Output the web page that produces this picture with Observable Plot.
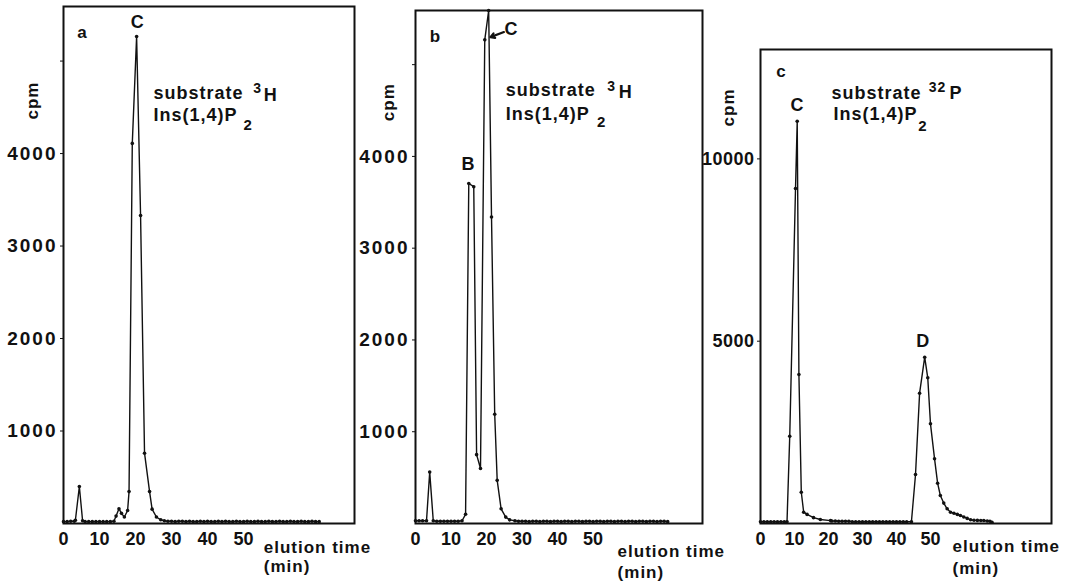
<!DOCTYPE html>
<html>
<head>
<meta charset="utf-8">
<script src="https://cdn.jsdelivr.net/npm/d3@7"></script>
<script src="https://cdn.jsdelivr.net/npm/@observablehq/plot@0.6"></script>
<style>
  body { margin: 0; background: #fff; }
  #chart { position: relative; width: 1071px; height: 582px; background: #fff; }
  #chart svg { position: absolute; left: 0; top: 0; }
</style>
</head>
<body>
<div id="chart"></div>
<script>
// ---------- data ----------
const xTicks = [0, 10, 20, 30, 40, 50];

// panel a : substrate 3H Ins(1,4)P2
const minutesA = [
  0, 1, 2, 3, 3.3, 4.4, 5.3,
  6, 7, 8, 9, 10, 11, 12, 13, 14,
  14.6, 15.4, 16.1, 16.9, 17.8, 18.2,
  19.1, 20.3, 21.4, 22.5, 23.9, 24.6, 25.8,
  27, 28, 29,
  30, 31, 32, 33, 34, 35, 36, 37, 38, 39,
  40, 41, 42, 43, 44, 45, 46, 47, 48, 49,
  50, 51, 52, 53, 54, 55, 56, 57, 58, 59,
  60, 61, 62, 63, 64, 65, 66, 67, 68, 69,
  70, 71
];
const cpmA = [
  20, 20, 25, 25, 35, 400, 30,
  20, 20, 20, 20, 20, 20, 20, 20, 25,
  80, 160, 110, 70, 140, 345,
  4110, 5265, 3330, 760, 345, 155, 70,
  40, 30, 25,
  25, 20, 25, 25, 20, 25, 20, 20, 25, 20,
  25, 20, 20, 25, 20, 25, 20, 20, 25, 20,
  20, 25, 20, 20, 25, 20, 20, 25, 20, 20,
  25, 20, 20, 25, 20, 20, 25, 20, 20, 25,
  20, 20
];

// panel b : substrate 3H Ins(1,4)P2
const minutesB = [
  0, 1, 2, 3.1, 4.0, 5.0,
  6, 7, 8, 9, 10, 11, 12,
  13.1, 14.1, 15.0, 16.4, 17.2, 18.3,
  19.5, 20.6, 21.4, 22.3, 23.0, 24.1, 25.4,
  26.5, 28, 29,
  30, 31, 32, 33, 34, 35, 36, 37, 38, 39,
  40, 41, 42, 43, 44, 45, 46, 47, 48, 49,
  50, 51, 52, 53, 54, 55, 56, 57, 58, 59,
  60, 61, 62, 63, 64, 65, 66, 67, 68, 69,
  70, 71
];
const cpmB = [
  30, 30, 30, 30, 560, 30,
  25, 25, 25, 25, 25, 25, 25,
  30, 100, 3705, 3670, 750, 600,
  5270, 5590, 3340, 1190, 470, 160, 70,
  40, 30, 25,
  25, 25, 20, 25, 25, 20, 25, 25, 20, 25,
  25, 20, 25, 25, 20, 25, 25, 20, 25, 25,
  20, 25, 25, 20, 25, 25, 20, 25, 25, 20,
  25, 25, 20, 25, 25, 20, 25, 25, 20, 25,
  25, 20
];

// panel c : substrate 32P Ins(1,4)P2
const minutesC = [
  0, 1, 2, 3, 4, 5, 6, 7, 7.8,
  8.6, 10.3, 10.8, 11.3, 12.0, 12.7, 13.7, 15.6, 17.6, 20.6,
  21, 22, 23, 24, 25, 26, 27, 28, 29, 30,
  31, 32, 33, 34, 35, 36, 37, 38, 39, 40,
  41, 42, 43, 44.4,
  45.6, 46.8, 48.3, 49.2, 50.0, 51.2, 52.1, 52.9,
  53.9, 54.9, 55.9, 56.9, 57.9, 58.8, 59.8, 60.8, 61.8,
  62.8, 63.8, 64.8, 65.7, 66.7, 67.5, 68.1
];
const cpmC = [
  50, 50, 50, 50, 50, 50, 50, 50, 50,
  2394, 9188, 11034, 4087, 858, 310, 250, 160, 110, 80,
  70, 70, 60, 60, 60, 60, 50, 50, 50, 50,
  50, 50, 50, 50, 50, 50, 50, 50, 50, 50,
  50, 50, 50, 50,
  1344, 3574, 4561, 3996, 2734, 1774, 1105, 768,
  560, 403, 310, 280, 250, 219, 180, 140, 101,
  90, 85, 82, 82, 70, 60, 36
];

const yTicksAB = [1000, 2000, 3000, 4000, 5000];
const yLabelsAB = ["1000", "2000", "3000", "4000", ""];
const yTicksC = [5000, 10000];
const yLabelsC = ["5000", "10000"];

// ---------- annotations (in data units of each panel) ----------
const notesA = [
  {text: "a", t: 5.3, v: 5308, size: 17, anchor: "middle"},
  {text: "C", t: 20.6, v: 5416, size: 18, anchor: "middle"},
  {text: "substrate", t: 25.0, v: 4650, size: 18, anchor: "start"},
  {text: "3", t: 53.9, v: 4700, size: 14, anchor: "middle"},
  {text: "H", t: 55.6, v: 4627, size: 18, anchor: "start"},
  {text: "Ins(1,4)P", t: 25.0, v: 4411, size: 18, anchor: "start"},
  {text: "2", t: 51.3, v: 4303, size: 15, anchor: "middle"},
  {text: "cpm", t: -8.6, v: 4573, size: 17, anchor: "middle", rot: -90},
  {text: "elution time", t: 55.6, v: -259, size: 17, anchor: "start"},
  {text: "(min)", t: 55.6, v: -465, size: 17, anchor: "start"}
];
const notesB = [
  {text: "b", t: 5.6, v: 5311, size: 17, anchor: "middle"},
  {text: "C", t: 27.0, v: 5387, size: 18, anchor: "middle"},
  {text: "B", t: 14.9, v: 3915, size: 18, anchor: "middle"},
  {text: "substrate", t: 25.4, v: 4720, size: 18, anchor: "start"},
  {text: "3", t: 55.2, v: 4765, size: 14, anchor: "middle"},
  {text: "H", t: 57.2, v: 4700, size: 18, anchor: "start"},
  {text: "Ins(1,4)P", t: 25.4, v: 4460, size: 18, anchor: "start"},
  {text: "2", t: 52.4, v: 4373, size: 15, anchor: "middle"},
  {text: "cpm", t: -7.6, v: 4591, size: 17, anchor: "middle", rot: -90},
  {text: "elution time", t: 56.9, v: -305, size: 17, anchor: "start"},
  {text: "(min)", t: 56.9, v: -534, size: 17, anchor: "start"}
];
const arrowB = [{t1: 24.9, v1: 5355, t2: 21.1, v2: 5300}];
const notesC = [
  {text: "c", t: 6.2, v: 12383, size: 17, anchor: "middle"},
  {text: "C", t: 10.9, v: 11465, size: 18, anchor: "middle"},
  {text: "D", t: 47.9, v: 4992, size: 18, anchor: "middle"},
  {text: "substrate", t: 20.9, v: 11800, size: 18, anchor: "start"},
  {text: "32", t: 52.1, v: 11944, size: 14, anchor: "middle"},
  {text: "P", t: 55.6, v: 11794, size: 18, anchor: "start"},
  {text: "Ins(1,4)P", t: 21.5, v: 11218, size: 18, anchor: "start"},
  {text: "2", t: 47.8, v: 10902, size: 15, anchor: "middle"},
  {text: "cpm", t: -9.4, v: 11410, size: 17, anchor: "middle", rot: -90},
  {text: "elution time", t: 56.5, v: -631, size: 17, anchor: "start"},
  {text: "(min)", t: 56.5, v: -1234, size: 17, anchor: "start"}
];

// ---------- layout ----------
const W = 1071, H = 582;
const panels = [
  {minutes: minutesA, cpm: cpmA, frame: [63, 354, 6, 523], xMax: 80.8, yMax: 5590, yTicks: yTicksAB, yLabels: yLabelsAB, notes: notesA, yFont: 19, ySpacing: "2px"},
  {minutes: minutesB, cpm: cpmB, frame: [415, 702, 10, 523], xMax: 80.8, yMax: 5590, yTicks: yTicksAB, yLabels: yLabelsAB, notes: notesB, arrows: arrowB, yFont: 19, ySpacing: "2px"},
  {minutes: minutesC, cpm: cpmC, frame: [760, 1051, 49, 523], xMax: 85.6, yMax: 13000, yTicks: yTicksC, yLabels: yLabelsC, notes: notesC, yFont: 18, ySpacing: "0.5px"}
];

const ink = "#111";
const chart = document.getElementById("chart");

for (const p of panels) {
  const data = p.minutes.map((t, i) => ({t, v: p.cpm[i]}));
  const [l, r, top, bottom] = p.frame;
  const marks = [
    Plot.frame({stroke: ink, strokeWidth: 2}),
    Plot.axisX({ticks: xTicks, tickFormat: d => String(d), tickSize: 0, tickPadding: 9, fontSize: 18, label: null}),
    Plot.axisY({ticks: p.yTicks, tickFormat: d => p.yLabels[p.yTicks.indexOf(d)], tickSize: 3, tickPadding: 3, fontSize: p.yFont, label: null, stroke: ink}),
    Plot.line(data, {x: "t", y: "v", stroke: ink, strokeWidth: 1.4}),
    Plot.dot(data, {x: "t", y: "v", r: 1.8, fill: ink}),
    Plot.text(p.notes.filter(n => n.anchor === "start"), {x: "t", y: "v", text: "text", fontSize: "size", textAnchor: "start", fill: ink}),
    Plot.text(p.notes.filter(n => n.anchor === "middle"), {x: "t", y: "v", text: "text", fontSize: "size", textAnchor: "middle", rotate: d => d.rot || 0, fill: ink})
  ];
  if (p.arrows) {
    marks.push(Plot.arrow(p.arrows, {x1: "t1", y1: "v1", x2: "t2", y2: "v2", stroke: ink, strokeWidth: 2.2, headLength: 7}));
  }
  const svg = Plot.plot({
    width: W, height: H,
    marginLeft: l, marginRight: W - r, marginTop: top, marginBottom: H - bottom,
    style: {background: "transparent", overflow: "visible", fontFamily: "'Liberation Sans', Arial, sans-serif", fontWeight: "bold", fontSize: "17px", letterSpacing: "1px", color: ink},
    x: {domain: [0, p.xMax]},
    y: {domain: [0, p.yMax]},
    marks
  });
  svg.querySelectorAll('[aria-label="x-axis tick label"] text').forEach(t => t.style.letterSpacing = "0");
  svg.querySelectorAll('[aria-label="y-axis tick label"] text').forEach(t => t.style.letterSpacing = p.ySpacing);
  chart.appendChild(svg);
}
</script>
</body>
</html>
